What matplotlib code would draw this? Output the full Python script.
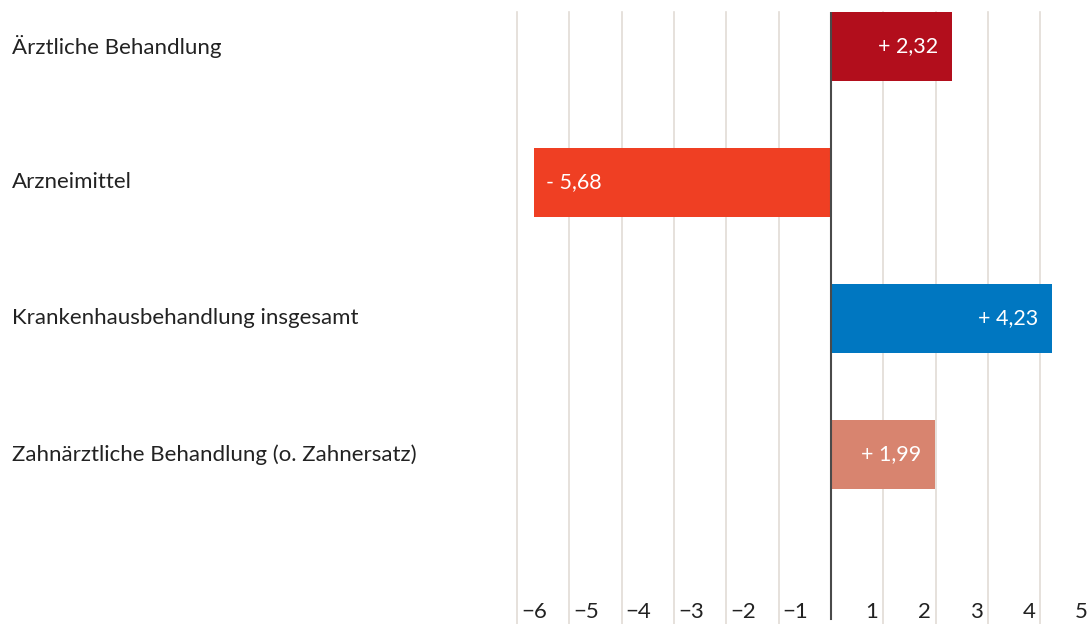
import matplotlib
matplotlib.use("Agg")
import matplotlib.pyplot as plt
from matplotlib import transforms

categories = [
    "Ärztliche Behandlung",
    "Arzneimittel",
    "Krankenhausbehandlung insgesamt",
    "Zahnärztliche Behandlung (o. Zahnersatz)",
]
values = [2.32, -5.68, 4.23, 1.99]
value_labels = ["+ 2,32", "- 5,68", "+ 4,23", "+ 1,99"]
colors = ["#B20E1C", "#EF3F23", "#0077C1", "#D8846F"]
ticks = [-6, -5, -4, -3, -2, -1, 1, 2, 3, 4, 5]
tick_labels = ["\u22126", "\u22125", "\u22124", "\u22123", "\u22122", "\u22121",
               "1", "2", "3", "4", "5"]

FONT = ["Lato", "DejaVu Sans"]
W, H = 1089, 624
fig = plt.figure(figsize=(W / 100, H / 100), dpi=100)

# axes spans from the -6 gridline to the right edge of the figure
x0, x_zero, unit = 517, 831, 52.35
ax = fig.add_axes([x0 / W, 0, (W - x0) / W, (H - 12) / H])
ax.set_xlim(-6, (W - x_zero) / unit)
bar_h = 0.507
ax.set_ylim((H - 46.5) / 136, -bar_h / 2)

for spine in ax.spines.values():
    spine.set_visible(False)
ax.set_xticks([])
ax.set_yticks([])

grid_color = "#E2DCD6"
for t in ticks:
    ax.axvline(t, color=grid_color, lw=1.2, zorder=0, clip_on=False)
ax.axvline(0, ymin=5 / (H - 12), ymax=1, color="#4A4A4A", lw=1.5, zorder=3)

ypos = list(range(len(values)))
ax.barh(ypos, values, height=bar_h, color=colors, zorder=2)

for y, v, lab in zip(ypos, values, value_labels):
    if v >= 0:
        off = transforms.offset_copy(ax.transData, fig=fig, x=-14, y=0, units="dots")
        ax.text(v, y, lab, ha="right", va="center", color="white",
                fontsize=15.5, family=FONT, transform=off, zorder=4)
    else:
        off = transforms.offset_copy(ax.transData, fig=fig, x=12, y=0, units="dots")
        ax.text(v, y, lab, ha="left", va="center", color="white",
                fontsize=15.5, family=FONT, transform=off, zorder=4)

# category labels at the left margin
lab_tr = transforms.blended_transform_factory(fig.transFigure, ax.transData)
for y, c in zip(ypos, categories):
    ax.text(12 / W, y, c, ha="left", va="center", color="#222222",
            fontsize=16, family=FONT, transform=lab_tr, clip_on=False)

# axis numbers sit beside their gridlines
xax = ax.get_xaxis_transform()
for t, lab in zip(ticks, tick_labels):
    dx = 4 if t < 0 else -5
    tr = transforms.offset_copy(xax, fig=fig, x=dx, y=2, units="dots")
    ax.text(t, 0, lab, ha="left" if t < 0 else "right", va="bottom",
            color="#222222", fontsize=16, family=FONT, transform=tr, clip_on=False)

fig.savefig("out.png", dpi=100, facecolor="white")
